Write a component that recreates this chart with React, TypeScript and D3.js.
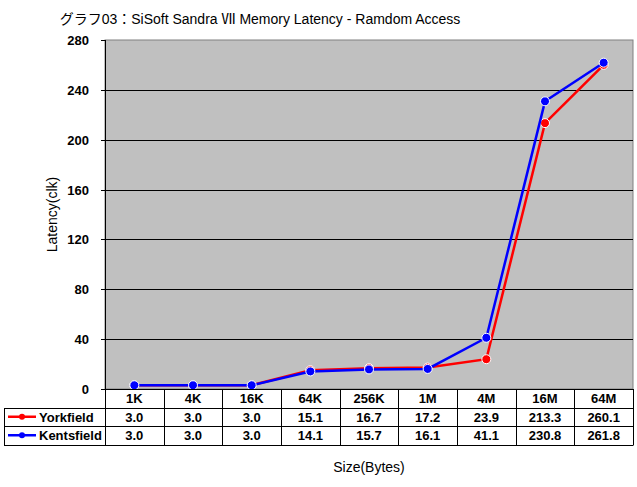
import React from 'react'
import * as d3 from 'd3'

const sizes = ['1K', '4K', '16K', '64K', '256K', '1M', '4M', '16M', '64M']
const yorkfield = [3.0, 3.0, 3.0, 15.1, 16.7, 17.2, 23.9, 213.3, 260.1]
const kentsfield = [3.0, 3.0, 3.0, 14.1, 15.7, 16.1, 41.1, 230.8, 261.8]
const yTicks = [0, 40, 80, 120, 160, 200, 240, 280]

const series = [
  { name: 'Yorkfield', color: '#ff0000', values: yorkfield },
  { name: 'Kentsfield', color: '#0000ff', values: kentsfield },
]

const W = 637
const H = 487
const plot = { left: 105, right: 633, top: 40, bottom: 389 }
const rowH = 18.5
const legendLeft = 4
const font = '"Liberation Sans", "Noto Sans CJK JP", sans-serif'

export default function App() {
  const x = d3.scaleBand().domain(sizes).range([plot.left, plot.right])
  const y = d3.scaleLinear().domain([0, 280]).range([plot.bottom, plot.top])
  const line = d3.line<number>()
    .x((_, i) => (x(sizes[i]) as number) + x.bandwidth() / 2)
    .y((d) => y(d))

  const tableBottom = plot.bottom + rowH * 3

  return (
    <svg width={W} height={H} style={{ position: 'absolute', left: 0, top: 0, background: '#fff' }}>
      <text x={260} y={24} textAnchor="middle" fontFamily={font} fontSize={14} fill="#000">
        グラフ03：SiSoft Sandra Ⅶ Memory Latency - Ramdom Access
      </text>

      {/* plot area */}
      <rect x={plot.left} y={plot.top} width={plot.right - plot.left} height={plot.bottom - plot.top}
        fill="#c0c0c0" stroke="#808080" strokeWidth={1} />
      {yTicks.filter((t) => t > 0 && t < 280).map((t) => (
        <line key={t} x1={plot.left} x2={plot.right} y1={Math.round(y(t)) + 0.5} y2={Math.round(y(t)) + 0.5}
          stroke="#000" strokeWidth={1} />
      ))}
      {yTicks.map((t) => (
        <g key={'t' + t}>
          <line x1={plot.left - 4} x2={plot.left} y1={Math.round(y(t)) + 0.5} y2={Math.round(y(t)) + 0.5} stroke="#000" />
          <text x={89} y={y(t) + 5} textAnchor="end" fontFamily={font} fontWeight="bold" fontSize={13}>{t}</text>
        </g>
      ))}
      <line x1={plot.left + 0.5} x2={plot.left + 0.5} y1={plot.top} y2={plot.bottom} stroke="#000" />

      {series.map((s) => (
        <g key={s.name}>
          <path d={line(s.values) || ''} fill="none" stroke={s.color} strokeWidth={2.5} />
          {s.values.map((v, i) => (
            <circle key={i} cx={(x(sizes[i]) as number) + x.bandwidth() / 2} cy={y(v)} r={4.5}
              fill={s.color} stroke="#fff" strokeWidth={1} />
          ))}
        </g>
      ))}

      {/* data table */}
      <g fill="none" stroke="#000" strokeWidth={1}>
        <line x1={plot.left} x2={plot.right} y1={plot.bottom + 0.5} y2={plot.bottom + 0.5} />
        {[1, 2, 3].map((r) => (
          <line key={r} x1={legendLeft} x2={plot.right} y1={Math.round(plot.bottom + rowH * r) + 0.5}
            y2={Math.round(plot.bottom + rowH * r) + 0.5} />
        ))}
        <line x1={legendLeft + 0.5} x2={legendLeft + 0.5} y1={Math.round(plot.bottom + rowH) + 0.5} y2={Math.round(tableBottom) + 0.5} />
        {sizes.map((c) => (
          <line key={c} x1={Math.round(x(c) as number) + 0.5} x2={Math.round(x(c) as number) + 0.5}
            y1={plot.bottom} y2={Math.round(tableBottom) + 0.5} />
        ))}
        <line x1={plot.right + 0.5} x2={plot.right + 0.5} y1={plot.bottom} y2={Math.round(tableBottom) + 0.5} />
      </g>
      {sizes.map((c) => (
        <text key={c} x={(x(c) as number) + x.bandwidth() / 2} y={plot.bottom + rowH / 2 + 5} textAnchor="middle"
          fontFamily={font} fontWeight="bold" fontSize={13}>{c}</text>
      ))}
      {series.map((s, r) => {
        const cy = plot.bottom + rowH * (r + 1) + rowH / 2
        return (
          <g key={s.name}>
            <line x1={8} x2={36} y1={cy} y2={cy} stroke={s.color} strokeWidth={2.5} />
            <circle cx={22} cy={cy} r={3} fill={s.color} />
            <text x={39} y={cy + 5} fontFamily={font} fontWeight="bold" fontSize={13}>{s.name}</text>
            {s.values.map((v, i) => (
              <text key={i} x={(x(sizes[i]) as number) + x.bandwidth() / 2} y={cy + 5} textAnchor="middle"
                fontFamily={font} fontWeight="bold" fontSize={13}>{v.toFixed(1)}</text>
            ))}
          </g>
        )
      })}

      <text transform={`translate(57, ${(plot.top + plot.bottom) / 2}) rotate(-90)`} textAnchor="middle"
        fontFamily={font} fontSize={14}>Latency(clk)</text>
      <text x={369} y={472} textAnchor="middle" fontFamily={font} fontSize={14}>Size(Bytes)</text>
    </svg>
  )
}
